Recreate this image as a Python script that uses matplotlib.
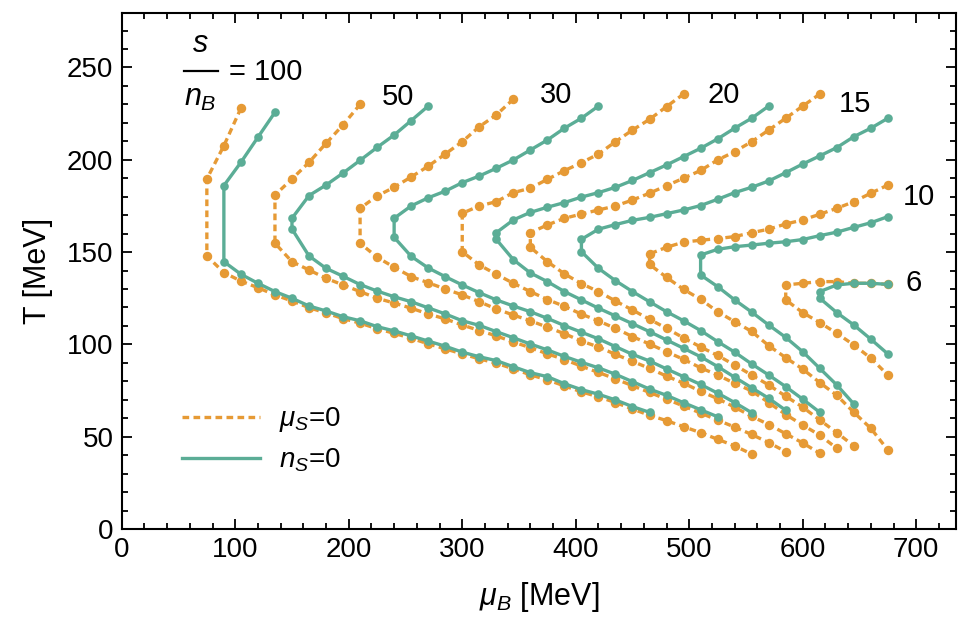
import matplotlib.pyplot as plt
from matplotlib.lines import Line2D
from matplotlib.ticker import MultipleLocator

ORANGE = '#E69A35'
TEAL = '#5BAD96'

# each curve: upper branch (top -> knee), then lower branch (knee -> end)
# s/nB = 100
mu_o100 = [105, 90, 75, 75, 90, 105, 120, 135, 150, 165, 180, 195, 210, 225, 240, 255, 270, 285,
           300, 315, 330, 345, 360, 375, 390, 405, 420, 435, 450, 465, 480, 495, 510, 525, 540, 555]
T_o100 = [227.9, 207.6, 189.6, 147.9, 138.9, 134.3, 130.7, 126.8, 123.5, 119.9, 117.0, 114.0, 111.5,
          108.5, 106.0, 103.3, 100.3, 97.6, 94.8, 92.2, 89.8, 86.8, 83.5, 80.8, 77.5, 74.3, 71.6, 68.5,
          65.0, 61.6, 58.7, 55.4, 52.2, 48.6, 45.0, 40.6]
mu_t100 = [135, 120, 105, 90, 90, 105, 120, 135, 150, 165, 180, 195, 210, 225, 240, 255, 270, 285,
           300, 315, 330, 345, 360, 375, 390, 405, 420, 435, 450, 465]
T_t100 = [225.7, 212.2, 198.6, 186.0, 144.8, 138.0, 133.1, 128.6, 125.0, 120.8, 118.1, 115.0, 112.8,
          109.6, 107.3, 104.6, 101.8, 99.0, 95.8, 93.3, 91.2, 87.9, 84.7, 82.5, 78.7, 75.5, 73.0, 69.9,
          66.3, 63.2]

# s/nB = 50
mu_o50 = [210, 195, 180, 165, 150, 135, 135, 150, 165, 180, 195, 210, 225, 240, 255, 270, 285, 300,
          315, 330, 345, 360, 375, 390, 405, 420, 435, 450, 465, 480, 495, 510, 525, 540, 555, 570, 585]
T_o50 = [230.0, 218.9, 208.9, 198.6, 189.6, 180.9, 154.8, 144.8, 140.3, 135.8, 132.2, 128.6, 125.0,
         122.4, 119.6, 116.5, 113.8, 110.5, 107.5, 104.6, 101.3, 98.2, 94.9, 91.8, 88.2, 84.8, 81.3,
         77.6, 74.0, 70.3, 66.6, 62.8, 59.0, 55.2, 51.2, 46.8, 41.9]
mu_t50 = [270, 255, 240, 225, 210, 195, 180, 165, 150, 150, 165, 180, 195, 210, 225, 240, 255, 270,
          285, 300, 315, 330, 345, 360, 375, 390, 405, 420, 435, 450, 465, 480, 495, 510, 525]
T_t50 = [229.1, 221.2, 213.4, 206.7, 199.7, 192.8, 186.3, 180.6, 168.3, 162.5, 147.9, 141.2, 136.9,
         132.4, 128.9, 125.8, 123.1, 119.8, 116.5, 112.8, 110.3, 106.9, 103.6, 100.2, 97.0, 93.5, 90.3,
         87.3, 83.8, 79.8, 75.8, 72.4, 68.4, 64.6, 60.8]

# s/nB = 30
mu_o30 = [345, 330, 315, 300, 285, 270, 255, 240, 225, 210, 210, 225, 240, 255, 270, 285, 300, 315,
          330, 345, 360, 375, 390, 405, 420, 435, 450, 465, 480, 495, 510, 525, 540, 555, 570, 585,
          600, 615]
T_o30 = [232.8, 224.3, 217.9, 209.8, 203.1, 196.5, 190.7, 185.1, 180.4, 173.7, 154.8, 147.2, 141.8,
         136.7, 133.4, 130.0, 126.8, 123.1, 119.2, 115.9, 112.8, 109.3, 105.8, 101.8, 98.6, 94.6, 90.8,
         87.0, 82.8, 79.0, 74.6, 70.6, 66.0, 61.0, 56.6, 51.6, 46.6, 41.0]
mu_t30 = [420, 405, 390, 375, 360, 345, 330, 315, 300, 285, 270, 255, 240, 240, 255, 270, 285, 300,
          315, 330, 345, 360, 375, 390, 405, 420, 435, 450, 465, 480, 495, 510, 525, 540, 555]
T_t30 = [229.1, 222.5, 217.1, 210.7, 205.3, 199.9, 195.4, 191.2, 187.6, 183.0, 179.4, 175.0, 168.3,
         158.0, 147.7, 141.4, 136.7, 132.2, 128.0, 124.1, 120.8, 117.7, 114.1, 110.2, 106.6, 103.0,
         98.8, 94.6, 91.0, 86.7, 82.5, 78.3, 73.6, 68.5, 63.0]

# s/nB = 20
mu_o20 = [495, 480, 465, 450, 435, 420, 405, 390, 375, 360, 345, 330, 315, 300, 300, 315, 330, 345,
          360, 375, 390, 405, 420, 435, 450, 465, 480, 495, 510, 525, 540, 555, 570, 585, 600, 615, 630]
T_o20 = [235.6, 228.8, 221.9, 216.1, 209.8, 203.1, 198.4, 194.1, 189.4, 184.6, 182.2, 177.3, 175.0,
         171.0, 150.2, 143.0, 138.0, 133.1, 128.6, 124.3, 120.6, 116.4, 112.7, 108.7, 104.2, 100.2,
         96.0, 91.9, 87.3, 83.4, 78.9, 74.8, 68.5, 62.0, 56.3, 50.8, 43.7]
mu_t20 = [570, 555, 540, 525, 510, 495, 480, 465, 450, 435, 420, 405, 390, 375, 360, 345, 330, 330,
          345, 360, 375, 390, 405, 420, 435, 450, 465, 480, 495, 510, 525, 540, 555, 570, 585]
T_t20 = [229.1, 222.5, 217.1, 211.3, 206.2, 201.7, 197.2, 193.0, 188.8, 185.1, 182.2, 179.8, 176.8,
         174.3, 171.5, 167.4, 160.5, 156.9, 145.9, 138.7, 134.0, 128.6, 124.1, 119.6, 115.4, 111.2,
         106.9, 102.4, 97.9, 93.3, 88.0, 82.2, 76.5, 70.8, 64.3]

# s/nB = 15
mu_o15 = [615, 600, 585, 570, 555, 540, 525, 510, 495, 480, 465, 450, 435, 420, 405, 390, 375, 360,
          360, 375, 390, 405, 420, 435, 450, 465, 480, 495, 510, 525, 540, 555, 570, 585, 600, 615,
          630, 645]
T_o15 = [235.6, 229.1, 222.5, 216.1, 209.8, 204.4, 199.9, 194.2, 190.0, 186.0, 181.9, 178.2, 175.0,
         172.8, 170.6, 168.3, 164.7, 160.5, 152.6, 144.8, 138.2, 132.9, 128.6, 123.5, 118.6, 113.6,
         108.7, 103.5, 98.6, 94.0, 88.8, 83.4, 78.0, 71.9, 66.0, 59.0, 52.2, 45.0]
mu_t15 = [675, 660, 645, 630, 615, 600, 585, 570, 555, 540, 525, 510, 495, 480, 465, 450, 435, 420,
          405, 405, 420, 435, 450, 465, 480, 495, 510, 525, 540, 555, 570, 585, 600, 615]
T_t15 = [222.5, 217.1, 212.5, 206.6, 202.1, 197.7, 193.0, 188.5, 185.1, 182.2, 178.6, 175.2, 172.8,
         170.8, 168.8, 167.2, 164.9, 162.4, 156.9, 150.2, 141.2, 134.5, 128.6, 123.1, 117.7, 112.8,
         107.5, 101.5, 95.8, 89.4, 83.4, 77.1, 70.3, 63.2]

# s/nB = 10
mu_o10 = [675, 660, 645, 630, 615, 600, 585, 570, 555, 540, 525, 510, 495, 480, 465, 465, 480, 495,
          510, 525, 540, 555, 570, 585, 600, 615, 630, 645, 660, 675]
T_o10 = [186.3, 181.9, 177.3, 173.7, 170.5, 167.4, 165.2, 162.4, 160.5, 158.4, 157.3, 156.4, 155.4,
         152.6, 149.0, 143.3, 136.3, 129.8, 124.4, 117.7, 112.3, 107.0, 99.3, 92.8, 86.6, 79.3, 72.4,
         63.2, 54.5, 42.8]
mu_t10 = [675, 660, 645, 630, 615, 600, 585, 570, 555, 540, 525, 510, 510, 525, 540, 555, 570, 585,
          600, 615, 630, 645]
T_t10 = [169.2, 165.9, 163.4, 160.8, 158.9, 156.8, 155.6, 154.8, 153.8, 152.9, 151.5, 148.4, 137.6,
         131.3, 124.1, 117.5, 110.5, 103.8, 96.0, 87.0, 78.0, 67.7]

# s/nB = 6
mu_o6 = [675, 660, 645, 630, 615, 600, 585, 585, 600, 615, 630, 645, 660, 675]
T_o6 = [132.5, 133.1, 133.1, 134.0, 134.0, 133.1, 132.2, 124.1, 117.2, 111.8, 106.0, 99.7, 92.5, 83.4]
mu_t6 = [675, 660, 645, 630, 615, 615, 630, 645, 660, 675]
T_t6 = [132.5, 133.1, 133.1, 132.2, 128.6, 125.0, 117.2, 110.5, 102.8, 94.8]

orange_curves = [(mu_o100, T_o100), (mu_o50, T_o50), (mu_o30, T_o30), (mu_o20, T_o20),
                 (mu_o15, T_o15), (mu_o10, T_o10), (mu_o6, T_o6)]
teal_curves = [(mu_t100, T_t100), (mu_t50, T_t50), (mu_t30, T_t30), (mu_t20, T_t20),
               (mu_t15, T_t15), (mu_t10, T_t10), (mu_t6, T_t6)]

# curve labels (text, mu, T)
curve_labels = [('50', 243, 234), ('30', 383, 235), ('20', 530, 235),
                ('15', 646, 230), ('10', 702, 180), ('6', 698, 133)]

plt.rcParams['font.family'] = ['Liberation Sans', 'DejaVu Sans']
plt.rcParams['mathtext.fontset'] = 'custom'
plt.rcParams['mathtext.rm'] = 'Liberation Sans'
plt.rcParams['mathtext.it'] = 'Liberation Sans:italic'

fig = plt.figure(figsize=(9.8, 6.25), dpi=100)
ax = fig.add_axes([0.1242, 0.1536, 0.8513, 0.8256])

for mu, T in orange_curves:
    ax.plot(mu, T, color=ORANGE, lw=2.4, ls=(0, (2.0, 1.3)), marker='o', ms=6.8,
            markeredgewidth=0, zorder=2)
for mu, T in teal_curves:
    ax.plot(mu, T, color=TEAL, lw=2.4, ls='-', marker='o', ms=6.2,
            markeredgewidth=0, zorder=3)

for txt, x, y in curve_labels:
    ax.text(x, y, txt, fontsize=21, ha='center', va='center')

# s / n_B = 100 label, fraction built from two texts and a bar
ax.text(0.0945, 0.925, '$s$', fontsize=22, ha='center', va='baseline', transform=ax.transAxes)
ax.add_line(Line2D([0.0745, 0.1155], [0.8874, 0.8874], color='black', lw=1.6,
                   transform=ax.transAxes))
ax.text(0.0945, 0.82, '$n_B$', fontsize=22, ha='center', va='baseline', transform=ax.transAxes)
ax.text(127, 247.5, '= 100', fontsize=21, ha='center', va='center')

handles = [Line2D([], [], color=ORANGE, lw=2.4, ls=(0, (2.0, 1.3))),
           Line2D([], [], color=TEAL, lw=2.4)]
ax.legend(handles, [r'$\mu_S$=0', r'$n_S$=0'], loc='lower left', bbox_to_anchor=(0.072, 0.106),
          frameon=False, fontsize=20, handlelength=2.8, handletextpad=0.7, labelspacing=0.45,
          borderpad=0, borderaxespad=0)

ax.set_xlim(0, 735)
ax.set_ylim(0, 279.5)
ax.xaxis.set_major_locator(MultipleLocator(100))
ax.xaxis.set_minor_locator(MultipleLocator(20))
ax.yaxis.set_major_locator(MultipleLocator(50))
ax.yaxis.set_minor_locator(MultipleLocator(10))
ax.tick_params(which='both', direction='in', top=True, right=True, labelsize=20, width=1.3)
ax.tick_params(which='major', length=7, pad=6)
ax.tick_params(which='minor', length=4)
for sp in ax.spines.values():
    sp.set_linewidth(1.5)

ax.set_xlabel(r'$\mu_B$ [MeV]', fontsize=22, labelpad=12)
ax.set_ylabel('T [MeV]', fontsize=22, labelpad=10)

fig.savefig('out.png', dpi=100)
